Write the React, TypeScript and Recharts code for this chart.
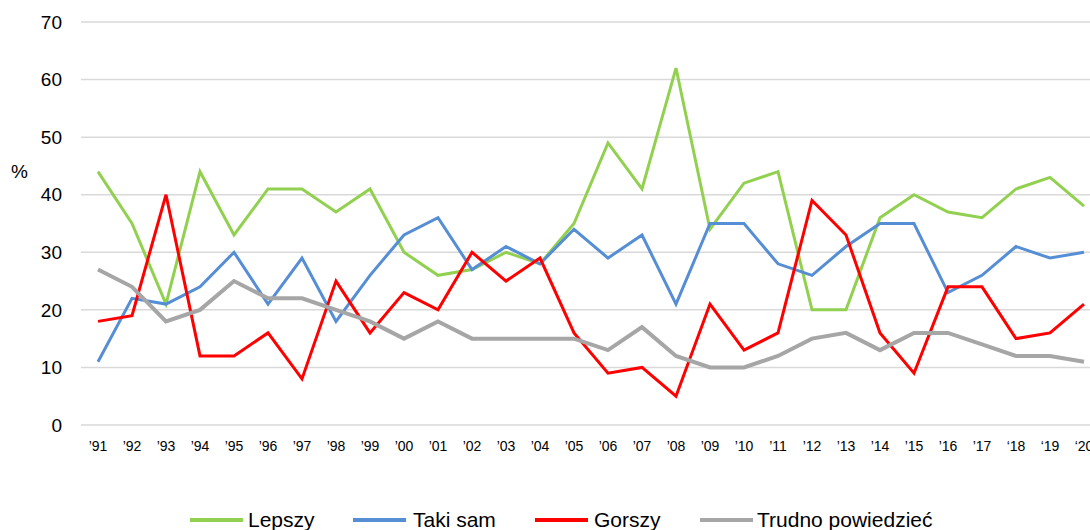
import React from 'react';
import { LineChart, Line, XAxis, YAxis, CartesianGrid } from 'recharts';

const years = [
  '’91', '’92', '’93', '’94', '’95', '’96', '’97', '’98', '’99', '’00',
  '’01', '’02', '’03', '’04', '’05', '’06', '’07', '’08', '’09', '’10',
  '’11', '’12', '’13', '’14', '’15', '’16', '’17', '‘18', '‘19', '‘20',
];

const lepszy = [44, 35, 21, 44, 33, 41, 41, 37, 41, 30, 26, 27, 30, 28, 35, 49, 41, 62, 34, 42, 44, 20, 20, 36, 40, 37, 36, 41, 43, 38];
const takiSam = [11, 22, 21, 24, 30, 21, 29, 18, 26, 33, 36, 27, 31, 28, 34, 29, 33, 21, 35, 35, 28, 26, 31, 35, 35, 23, 26, 31, 29, 30];
const gorszy = [18, 19, 40, 12, 12, 16, 8, 25, 16, 23, 20, 30, 25, 29, 16, 9, 10, 5, 21, 13, 16, 39, 33, 16, 9, 24, 24, 15, 16, 21];
const trudno = [27, 24, 18, 20, 25, 22, 22, 20, 18, 15, 18, 15, 15, 15, 15, 13, 17, 12, 10, 10, 12, 15, 16, 13, 16, 16, 14, 12, 12, 11];

const yTicks = [0, 10, 20, 30, 40, 50, 60, 70];

const series = [
  { key: 'lepszy', name: 'Lepszy', color: '#92D050', width: 3, lineLeft: 190, textLeft: 248 },
  { key: 'takiSam', name: 'Taki sam', color: '#558ED5', width: 3, lineLeft: 353, textLeft: 413 },
  { key: 'gorszy', name: 'Gorszy', color: '#FF0000', width: 3, lineLeft: 535, textLeft: 594 },
  { key: 'trudno', name: 'Trudno powiedzieć', color: '#A6A6A6', width: 4, lineLeft: 700, textLeft: 757 },
];

const data = years.map((year, i) => ({
  year,
  lepszy: lepszy[i],
  takiSam: takiSam[i],
  gorszy: gorszy[i],
  trudno: trudno[i],
}));

export default function App() {
  return (
    <div
      style={{
        position: 'fixed',
        left: 0,
        top: 0,
        width: 1090,
        height: 530,
        overflow: 'hidden',
        background: '#fff',
        fontFamily: '"Liberation Sans", Arial, sans-serif',
      }}
    >
      <LineChart width={1101} height={530} data={data} margin={{ top: 22, right: 0, bottom: 75, left: 0 }}>
        <CartesianGrid vertical={false} stroke="#D9D9D9" strokeWidth={1.5} />
        <XAxis
          dataKey="year"
          axisLine={false}
          tickLine={false}
          interval={0}
          padding={{ left: 17, right: 17 }}
          height={30}
          tickMargin={10}
          tick={{ fill: '#000', fontSize: 14 }}
        />
        <YAxis
          domain={[0, 70]}
          ticks={yTicks}
          width={81}
          axisLine={false}
          tickLine={false}
          tickSize={0}
          tickMargin={19}
          tick={{ fill: '#000', fontSize: 19 }}
        />
        {series.map((s) => (
          <Line
            key={s.key}
            type="linear"
            dataKey={s.key}
            name={s.name}
            stroke={s.color}
            strokeWidth={s.width}
            dot={false}
            activeDot={false}
            isAnimationActive={false}
          />
        ))}
      </LineChart>
      <div style={{ position: 'absolute', left: 11, top: 161, fontSize: 19, color: '#000' }}>%</div>
      {series.map((s) => (
        <React.Fragment key={s.key}>
          <div
            style={{
              position: 'absolute',
              left: s.lineLeft,
              top: 518,
              width: 53,
              height: 4,
              background: s.color,
            }}
          />
          <div
            style={{
              position: 'absolute',
              left: s.textLeft,
              top: 508,
              fontSize: 21,
              lineHeight: '24px',
              color: '#000',
              whiteSpace: 'nowrap',
            }}
          >
            {s.name}
          </div>
        </React.Fragment>
      ))}
    </div>
  );
}
